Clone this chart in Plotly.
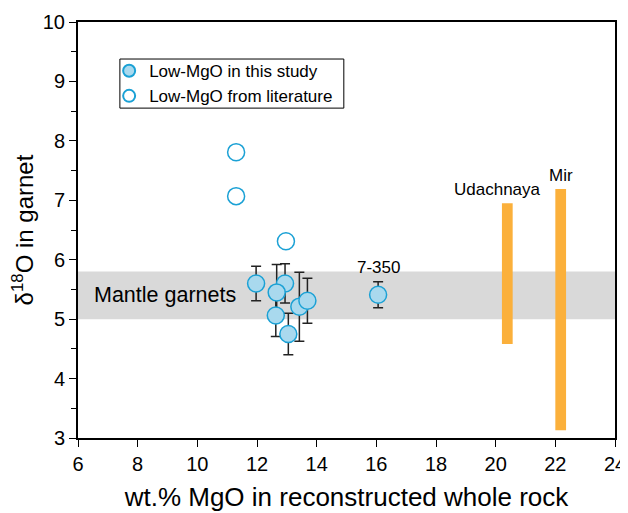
import plotly.graph_objects as go

# Low-MgO garnets, this study
study_mgo = [11.97, 12.94, 12.66, 12.63, 13.05, 13.42, 13.69, 16.06]
study_d18o = [5.60, 5.60, 5.45, 5.06, 4.75, 5.21, 5.31, 5.41]
study_err = [0.29, 0.33, 0.47, 0.35, 0.35, 0.58, 0.38, 0.22]

# Low-MgO garnets, literature
lit_mgo = [11.30, 11.30, 12.97]
lit_d18o = [7.81, 7.07, 6.31]

# Kimberlite ranges
range_names = ["Udachnaya", "Mir"]
range_mgo = [20.39, 22.18]
range_low = [4.58, 3.13]
range_high = [6.95, 7.19]

# Mantle garnet band
mantle_low, mantle_high = 5.0, 5.8

x_ticks = [6, 8, 10, 12, 14, 16, 18, 20, 22, 24]
y_ticks = [3, 4, 5, 6, 7, 8, 9, 10]

FONT = "Liberation Sans, Arial, sans-serif"
BLUE_EDGE = "#1ba1d5"
BLUE_FILL = "#a9d9ee"
ORANGE = "#fbb03b"

fig = go.Figure()

fig.add_trace(go.Bar(
    x=range_mgo,
    y=[h - l for h, l in zip(range_high, range_low)],
    base=range_low,
    width=0.36,
    marker=dict(color=ORANGE, line=dict(width=0)),
    showlegend=False,
    hoverinfo="skip",
))

fig.add_trace(go.Scatter(
    x=study_mgo, y=study_d18o, mode="markers",
    name="Low-MgO in this study",
    error_y=dict(type="data", array=study_err, visible=True,
                 color="#222222", thickness=1.5, width=5),
    marker=dict(size=17, color=BLUE_FILL, line=dict(color=BLUE_EDGE, width=1.5)),
))

fig.add_trace(go.Scatter(
    x=lit_mgo, y=lit_d18o, mode="markers",
    name="Low-MgO from literature",
    marker=dict(size=17, color="white", line=dict(color=BLUE_EDGE, width=1.5)),
))

fig.add_shape(type="rect", xref="paper", yref="y", x0=0, x1=1,
              y0=mantle_low, y1=mantle_high,
              fillcolor="#d9d9d9", line=dict(width=0), layer="below")

# legend frame
fig.add_shape(type="rect", xref="paper", yref="paper", x0=0.078, x1=0.495,
              y0=0.793, y1=0.911, line=dict(color="black", width=1),
              fillcolor="rgba(0,0,0,0)", layer="above")

fig.add_annotation(x=0.026, xref="paper", y=(mantle_low + mantle_high) / 2, yref="y",
                   text="Mantle garnets", showarrow=False, xanchor="left",
                   font=dict(family=FONT, size=21.5, color="black"))
fig.add_annotation(x=study_mgo[-1], y=study_d18o[-1] + 0.26, text="7-350",
                   showarrow=False, yanchor="bottom",
                   font=dict(family=FONT, size=17, color="black"))
fig.add_annotation(x=range_mgo[0] - 0.32, y=range_high[0] + 0.03, text=range_names[0],
                   showarrow=False, yanchor="bottom",
                   font=dict(family=FONT, size=17, color="black"))
fig.add_annotation(x=range_mgo[1], y=range_high[1] + 0.03, text=range_names[1],
                   showarrow=False, yanchor="bottom",
                   font=dict(family=FONT, size=17, color="black"))

axis_common = dict(showline=True, linecolor="black", linewidth=2, mirror=True,
                   ticks="outside", ticklen=7, tickwidth=1, tickcolor="black",
                   showgrid=False, zeroline=False, automargin=False,
                   tickfont=dict(family=FONT, size=20, color="black"))

fig.update_xaxes(range=[6, 24], tickvals=x_ticks,
                 title=dict(text="wt.% MgO in reconstructed whole rock",
                            font=dict(family=FONT, size=26, color="black"), standoff=14),
                 **axis_common)
fig.update_yaxes(range=[3, 10], tickvals=y_ticks,
                 minor=dict(dtick=0.5, ticks="outside", ticklen=5, tickcolor="black"),
                 title=dict(text="δ<sup>18</sup>O in garnet",
                            font=dict(family=FONT, size=24, color="black"), standoff=10),
                 **axis_common)

fig.update_layout(
    width=620, height=505,
    margin=dict(l=70, r=13, t=14, b=75),
    plot_bgcolor="white", paper_bgcolor="white",
    barmode="overlay",
    legend=dict(x=0.058, y=0.925, xanchor="left", yanchor="top",
                borderwidth=0, bgcolor="rgba(0,0,0,0)",
                font=dict(family=FONT, size=17, color="black"),
                itemsizing="constant", tracegroupgap=0),
    showlegend=True,
)

fig.write_html("out.html")
